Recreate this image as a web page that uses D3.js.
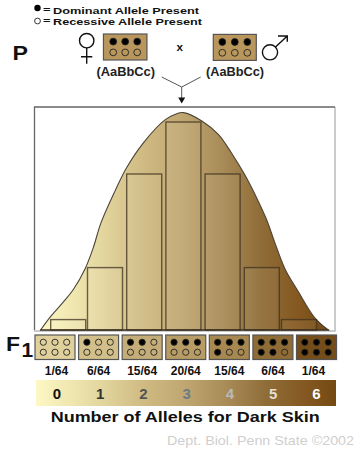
<!DOCTYPE html>
<html>
<head>
<meta charset="utf-8">
<script src="https://cdn.jsdelivr.net/npm/d3@7"></script>
<style>
  html, body { margin: 0; padding: 0; background: #fff; }
  svg { display: block; }
  text { font-family: "Liberation Sans", Arial, sans-serif; font-weight: 700; fill: #111; }
</style>
</head>
<body>
<div id="chart"></div>
<script>
// Number of dominant alleles, and how many offspring of 64 carry that many
const alleleCounts = [0, 1, 2, 3, 4, 5, 6]
const frequencies = [1, 6, 15, 20, 15, 6, 1]
const fractionLabels = ['1/64', '6/64', '15/64', '20/64', '15/64', '6/64', '1/64']

// Bell outline: position on the allele axis, height in 64ths
const curvePositions = [-0.75, -0.48, -0.13, 0.14, 0.46, 0.68, 0.89, 1.26, 1.55, 1.98, 2.53, 2.83, 3, 3.47, 3.89, 4.23, 4.57, 4.87, 5.13, 5.35, 5.62, 5.98, 6.43, 6.79]
const curveHeights = [0, 1.28, 2.7, 3.9, 5.9, 7.9, 10.3, 13.4, 15.6, 18, 20.2, 20.8, 20.9, 20.1, 18.8, 17, 14.9, 12.7, 10.6, 8.4, 5.9, 3.7, 1.15, 0]

const RAMP = [
  [0, '#fdf8c4'], [0.2, '#e5d9a2'], [0.36, '#cfba82'], [0.5, '#bfa670'],
  [0.63, '#a98c58'], [0.77, '#8f6c37'], [0.9, '#845820'], [1, '#744a12']
]
const TILE_FILLS = ['#e0d19c', '#d2bf8a', '#c4ad78', '#b89c65', '#a68850', '#8f6c36', '#754d1a']
const DIGIT_FILLS = ['#111', '#333', '#555', '#6f7b86', '#b9b9b9', '#e2dfd2', '#fff']

const svg = d3.select('#chart').append('svg').attr('width', 360).attr('height', 450)
const defs = svg.append('defs')

function addRamp(id, x1, x2) {
  defs.append('linearGradient').attr('id', id)
    .attr('gradientUnits', 'userSpaceOnUse')
    .attr('x1', x1).attr('x2', x2).attr('y1', 0).attr('y2', 0)
    .selectAll('stop').data(RAMP).join('stop')
    .attr('offset', d => d[0]).attr('stop-color', d => d[1])
}
addRamp('bell', 40, 328)
addRamp('strip', 36, 336)

// Stretched text: the original lettering is wider than Liberation Sans at the same height
function label(px, py, size, str, width) {
  const t = svg.append('text').attr('x', px).attr('y', py).style('font-size', `${size}px`).text(str)
  if (width) t.attr('textLength', width).attr('lengthAdjust', 'spacingAndGlyphs')
  return t
}

const x = d3.scaleLinear().domain([0, 1, 5, 6]).range([68.2, 105, 261.8, 299])
const y = d3.scaleLinear().domain([0, 20]).range([330, 122])
const tileX = d3.scalePoint().domain(alleleCounts).range([55, 316.5])
const digitX = d3.scalePoint().domain(alleleCounts).range([57, 316.5])

// Plot frame
svg.append('path').attr('d', 'M335 107V331H34').attr('fill', 'none').attr('stroke', '#bbb').attr('stroke-width', 1.5)
svg.append('path').attr('d', 'M34.5 330V107H335').attr('fill', 'none').attr('stroke', '#666').attr('stroke-width', 1.3)

// Bell curve
const bellPts = curvePositions.map((p, i) => [p, curveHeights[i]])
const bellArea = d3.area().x(d => x(d[0])).y0(y(0)).y1(d => y(d[1])).curve(d3.curveCatmullRom.alpha(0.5))
svg.append('path').datum(bellPts).attr('d', bellArea)
  .attr('fill', 'url(#bell)').attr('stroke', '#4c4436').attr('stroke-width', 1.1)

// Frequency bars
svg.append('g').selectAll('rect').data(frequencies).join('rect')
  .attr('x', (d, i) => x(i) - 17.5).attr('width', 35)
  .attr('y', d => y(d)).attr('height', d => y(0) - y(d))
  .attr('fill', '#fff').attr('fill-opacity', 0.06)
  .attr('stroke', '#3d3220').attr('stroke-opacity', 0.75).attr('stroke-width', 1.4)

svg.append('line').attr('x1', 40).attr('x2', 329).attr('y1', 330).attr('y2', 330)
  .attr('stroke', '#33291a').attr('stroke-width', 1.2)

// Allele tiles
function drawTile(cx, top, w, h, fill, filled, dx, dy, r, sw) {
  const g = svg.append('g')
  g.append('rect').attr('x', cx - w / 2).attr('y', top).attr('width', w).attr('height', h)
    .attr('fill', fill).attr('stroke', '#555').attr('stroke-width', 1.2)
  d3.range(6).forEach(k => {
    const col = k % 3
    const row = Math.floor(k / 3)
    g.append('circle').attr('cx', cx + (col - 1) * dx).attr('cy', top + h / 2 + (row - 0.5) * dy).attr('r', r)
      .attr('fill', k < filled ? '#000' : 'none').attr('stroke', '#222').attr('stroke-width', sw)
  })
}
alleleCounts.forEach(n => drawTile(tileX(n), 335, 40, 24.5, TILE_FILLS[n], n, 11.7, 10, 3.1, 0.9))
drawTile(125.2, 34, 43.5, 26, '#b8965c', 3, 12, 10.8, 3.4, 0.9)
drawTile(234.8, 34.4, 43, 26, '#b8965c', 3, 12.5, 10.8, 3.4, 0.9)

svg.append('g').selectAll('text').data(fractionLabels).join('text')
  .attr('x', (d, i) => tileX(i) + (i === 0 ? 1.5 : i === 6 ? -3 : 0)).attr('y', 375)
  .attr('text-anchor', 'middle').style('font-size', '12px').text(d => d)

// Colour strip with allele counts
svg.append('rect').attr('x', 36).attr('y', 380).attr('width', 300).attr('height', 26).attr('fill', 'url(#strip)')
svg.append('g').selectAll('text').data(alleleCounts).join('text')
  .attr('x', d => digitX(d)).attr('y', 398.5)
  .attr('text-anchor', 'middle').style('font-size', '15px')
  .style('fill', d => DIGIT_FILLS[d]).text(d => d)

label(50.7, 421.5, 14, 'Number of Alleles for Dark Skin', 269)
label(167, 445, 13, 'Dept. Biol. Penn State ©2002', 187)
  .style('font-weight', 400).style('fill', '#cfcfcf')

// Key
svg.append('circle').attr('cx', 37.5).attr('cy', 8).attr('r', 3.2).attr('fill', '#000')
svg.append('circle').attr('cx', 37.5).attr('cy', 21).attr('r', 2.9).attr('fill', '#fff').attr('stroke', '#222').attr('stroke-width', 0.9)
label(43, 12.5, 9.5, '=', 7.5)
label(43, 24, 9.5, '=', 7.5)
label(53, 14, 9.5, 'Dominant Allele Present', 146)
label(53, 25, 9.5, 'Recessive Allele Present', 149)

// Generation labels
label(12.5, 60, 21, 'P', 15.5)
label(6, 351, 21, 'F', 14)
label(21.5, 357, 21, '1')

// Parents
const symbols = svg.append('g').attr('fill', 'none').attr('stroke', '#111').attr('stroke-width', 1.4)
symbols.append('circle').attr('cx', 86.7).attr('cy', 40.7).attr('r', 7.2)
symbols.append('path').attr('d', 'M86.7 48V63.7M81 56.7H92.3')
symbols.append('circle').attr('cx', 270).attr('cy', 52.3).attr('r', 7.6)
symbols.append('path').attr('d', 'M275.5 47L287.3 36M278 36H287.3V41.7')

label(176.5, 51, 11, 'x', 6.5)
label(96.5, 76, 12, '(AaBbCc)', 58.5).style('fill', '#222')
label(206, 76, 12, '(AaBbCc)', 58).style('fill', '#222')

// Cross connector
svg.append('path').attr('d', 'M161.7 77L181.7 87L200.7 77M181.7 87V98').attr('fill', 'none').attr('stroke', '#555').attr('stroke-width', 1)
svg.append('path').attr('d', 'M178.2 97.5H185.2L181.7 103.5Z').attr('fill', '#111')
</script>
</body>
</html>
